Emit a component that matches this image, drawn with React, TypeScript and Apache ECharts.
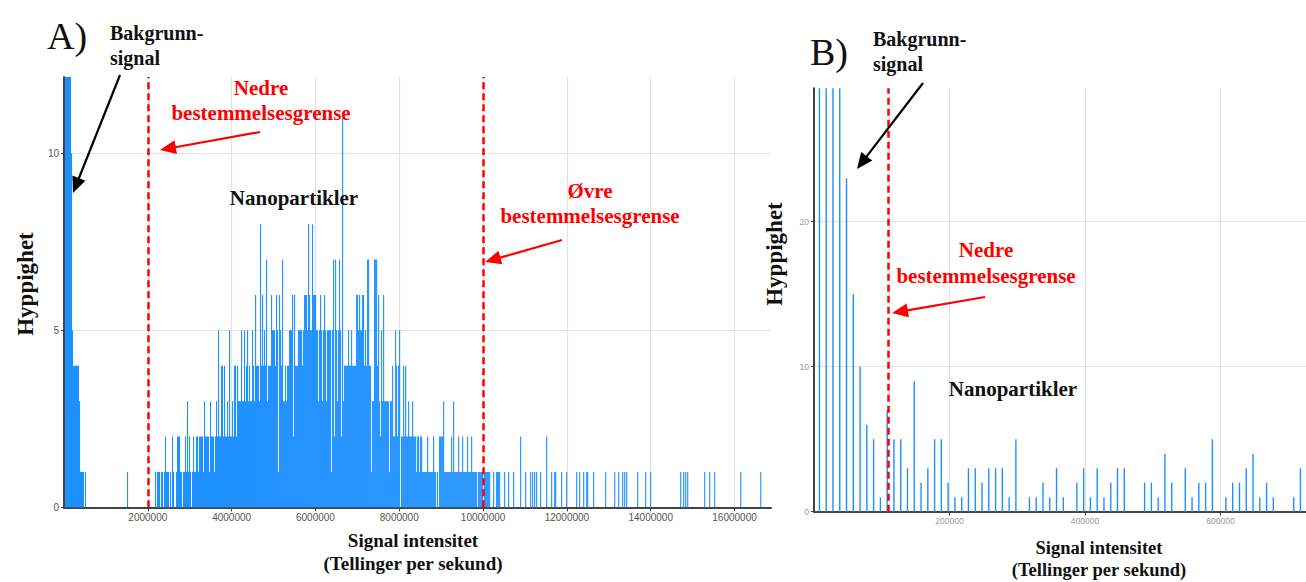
import React, { useEffect, useRef } from "react";
import * as echarts from "echarts";

// ---------- Panel A (histogram, full range) ----------
const A_BIN_WIDTH = 23870; // counts per second per bin
const A_X_MAX = 16870000;
const A_Y_MAX = 12.16;
const A_X_TICK = 2000000;
const A_LIMITS = [2000000, 10000000]; // nedre / øvre bestemmelsesgrense

// background-signal bins, starting at bin 1
const A_BG_START_BIN = 1;
const A_BG_COUNTS = [30, 26, 22, 18, 15, 13, 10, 5, 4, 4, 4, 4, 4, 4, 3, 1, 1, 1, 1, 0, 1];

// nanoparticle bins, contiguous, starting at bin 91
const A_CORE_START_BIN = 91;
const A_CORE_COUNTS = [
  1, 0, 1, 1, 1, 0, 1, 1, 0, 1,
  2, 1, 1, 1, 0, 1, 0, 2, 1, 0,
  0, 1, 2, 2, 2, 1, 1, 0, 1, 1,
  2, 1, 3, 1, 2, 1, 0, 1, 2, 1,
  1, 2, 2, 1, 2, 2, 2, 2, 1, 3,
  2, 2, 2, 2, 1, 3, 2, 2, 2, 1,
  2, 3, 2, 5, 2, 2, 4, 4, 2, 4,
  2, 2, 3, 2, 5, 2, 2, 3, 2, 4,
  4, 2, 4, 3, 3, 3, 5, 3, 3, 5,
  3, 4, 5, 3, 4, 3, 3, 5, 4, 3,
  6, 4, 4, 4, 3, 8, 4, 6, 4, 5,
  4, 7, 3, 4, 4, 4, 6, 5, 5, 5,
  4, 6, 5, 1, 6, 5, 4, 7, 3, 3,
  4, 3, 4, 4, 5, 5, 5, 6, 2, 6,
  4, 4, 4, 5, 5, 5, 5, 4, 5, 6,
  6, 6, 5, 8, 6, 5, 5, 8, 6, 6,
  6, 5, 5, 3, 5, 6, 5, 3, 5, 6,
  5, 3, 5, 5, 5, 5, 1, 5, 7, 2,
  7, 5, 3, 5, 7, 5, 2, 11, 3, 4,
  4, 4, 4, 5, 4, 4, 5, 4, 4, 4,
  4, 6, 6, 5, 6, 5, 5, 6, 6, 4,
  5, 4, 7, 7, 4, 4, 1, 3, 3, 7,
  7, 7, 4, 6, 3, 2, 5, 3, 6, 3,
  3, 3, 3, 3, 1, 3, 3, 4, 2, 2,
  5, 4, 2, 4, 5, 0, 2, 2, 4, 2,
  4, 2, 2, 3, 2, 2, 2, 3, 2, 2,
  2, 1, 2, 2, 1, 2, 2, 1, 1, 1,
  1, 1, 2, 1, 1, 1, 1, 1, 2, 1,
  1, 0, 1, 0, 2, 2, 2, 2, 3, 1,
  1, 1, 1, 1, 1, 1, 2, 1, 3, 1,
  1, 1, 1, 2, 1, 1, 1, 2, 1, 1,
  1, 1, 2, 1, 1, 1, 2, 1, 1, 1,
  1, 1, 0, 1, 1, 1, 1, 1, 0, 1,
  1, 1, 1, 1, 1, 0, 0, 0, 1, 0,
  0, 1, 1, 1, 1,
];

// isolated bins (left gap and right tail)
const A_SPARSE_BINS = [63, 440, 444, 449, 456, 461, 466, 468, 470, 472, 476, 482, 487, 490, 491, 497, 502, 512, 515, 519, 522, 523, 529, 541, 550, 554, 558, 560, 562, 573, 581, 586, 616, 619, 621, 623, 640, 645, 650, 676, 696];
const A_SPARSE_COUNTS = [1, 1, 1, 1, 2, 1, 1, 1, 1, 1, 1, 2, 1, 1, 1, 1, 1, 1, 1, 1, 1, 1, 1, 1, 1, 1, 1, 1, 1, 1, 1, 1, 1, 1, 1, 1, 1, 1, 1, 1, 1];

// ---------- Panel B (zoom on low intensities) ----------
const B_BIN_START = 8000;
const B_BIN_WIDTH = 10000;
const B_X_MAX = 760000;
const B_Y_MAX = 29.2;
const B_X_TICK = 200000;
const B_LIMIT = 109000;
const B_COUNTS = [
  52, 41, 35, 31, 23, 15, 10, 6, 5, 1,
  7, 5, 5, 3, 9, 2, 3, 5, 5, 2,
  1, 1, 3, 3, 2, 3, 3, 3, 1, 5,
  0, 1, 1, 2, 1, 3, 1, 0, 2, 3,
  1, 3, 1, 2, 3, 3, 0, 0, 2, 2,
  1, 4, 2, 0, 3, 1, 2, 2, 5, 0,
  1, 2, 2, 3, 4, 1, 2, 1, 0, 0,
  1, 3,
];

const BAR_COLOR = "#1e90ff";
const RED = "#ff0000";
const SERIF = '"Liberation Serif", "Times New Roman", serif';

function buildA(): [number, number][] {
  const pts: [number, number][] = [];
  const push = (bin: number, c: number) => {
    if (c > 0) pts.push([(bin + 0.5) * A_BIN_WIDTH, c]);
  };
  A_BG_COUNTS.forEach((c, i) => push(A_BG_START_BIN + i, c));
  A_CORE_COUNTS.forEach((c, i) => push(A_CORE_START_BIN + i, c));
  A_SPARSE_BINS.forEach((b, i) => push(b, A_SPARSE_COUNTS[i]));
  return pts;
}

function buildB(): [number, number][] {
  const pts: [number, number][] = [];
  B_COUNTS.forEach((c, i) => {
    if (c > 0) pts.push([B_BIN_START + i * B_BIN_WIDTH, c]);
  });
  return pts;
}

function arrow(x1: number, y1: number, x2: number, y2: number, color: string) {
  const dx = x2 - x1;
  const dy = y2 - y1;
  const len = Math.hypot(dx, dy);
  const ux = dx / len;
  const uy = dy / len;
  const hl = 16;
  const hw = 7;
  const bx = x2 - ux * hl;
  const by = y2 - uy * hl;
  return [
    { type: "line", z: 100, shape: { x1, y1, x2: bx + ux * 2, y2: by + uy * 2 }, style: { stroke: color, lineWidth: 2.2 } },
    {
      type: "polygon",
      z: 100,
      shape: { points: [[x2, y2], [bx - uy * hw, by + ux * hw], [bx + uy * hw, by - ux * hw]] },
      style: { fill: color },
    },
  ];
}

function txt(text: string, x: number, y: number, size: number, opts: any = {}) {
  return {
    type: "text",
    z: 100,
    x,
    y,
    rotation: opts.rotation || 0,
    style: {
      text,
      font: `${opts.bold === false ? "" : "bold "}${size}px ${SERIF}`,
      fill: opts.fill || "#111",
      align: opts.align || "left",
      verticalAlign: "middle",
      lineHeight: opts.lineHeight || size * 1.2,
    },
  };
}

function xAxisCfg(grid: number, max: number, interval: number, fontSize: number, color: string) {
  return {
    type: "value",
    gridIndex: grid,
    min: 0,
    max,
    interval,
    axisLine: { show: true, onZero: false, lineStyle: { color: "#444", width: 2 } },
    axisTick: { show: true, length: 4, lineStyle: { color: "#444", width: 1 } },
    axisLabel: {
      fontSize,
      color,
      margin: 5,
      fontFamily: "Arial, Liberation Sans, sans-serif",
      showMinLabel: false,
      showMaxLabel: false,
      formatter: (v: number) => String(v),
    },
    splitLine: { show: true, showMinLine: false, showMaxLine: false, lineStyle: { color: "#e3e3e3", width: 1.2 } },
  };
}

function yAxisCfg(grid: number, max: number, interval: number, fontSize: number, color: string) {
  return {
    type: "value",
    gridIndex: grid,
    min: 0,
    max,
    interval,
    axisLine: { show: true, lineStyle: { color: "#444", width: 2 } },
    axisTick: { show: true, length: 3, lineStyle: { color: "#444", width: 1 } },
    axisLabel: {
      fontSize,
      color,
      margin: 5,
      fontFamily: "Arial, Liberation Sans, sans-serif",
      showMaxLabel: false,
      formatter: (v: number) => String(v),
    },
    splitLine: { show: true, showMinLine: false, showMaxLine: false, lineStyle: { color: "#e3e3e3", width: 1.2 } },
  };
}

export default function App() {
  const ref = useRef<HTMLDivElement>(null);

  useEffect(() => {
    document.body.style.margin = "0";
    if (!ref.current) return;
    const chart = echarts.init(ref.current, undefined, { renderer: "svg" });

    const dashed = { color: RED, width: 2.5, type: [7, 4] as any };

    const graphics: any[] = [
      // Panel A annotations
      txt("A)", 47, 36, 38, { bold: false, fill: "#111" }),
      txt("Bakgrunn-\nsignal", 110, 45, 20, { lineHeight: 25 }),
      txt("Nedre\nbestemmelsesgrense", 261, 100, 21, { fill: RED, align: "center", lineHeight: 25 }),
      txt("Nanopartikler", 294, 198, 21, { align: "center" }),
      txt("Øvre\nbestemmelsesgrense", 590, 203, 21, { fill: RED, align: "center", lineHeight: 25 }),
      txt("Hyppighet", 25, 284, 23, { align: "center", rotation: Math.PI / 2 }),
      txt("Signal intensitet\n(Tellinger per sekund)", 413, 552, 19, { align: "center", lineHeight: 23 }),
      ...arrow(120, 75, 73, 193, "#000"),
      ...arrow(260, 132, 160, 150, RED),
      ...arrow(562, 240, 485, 262, RED),
      // Panel B annotations
      txt("B)", 810, 52, 38, { bold: false, fill: "#111" }),
      txt("Bakgrunn-\nsignal", 873, 51, 20, { lineHeight: 25 }),
      txt("Nedre\nbestemmelsesgrense", 986, 263, 21, { fill: RED, align: "center", lineHeight: 26 }),
      txt("Nanopartikler", 1013, 389, 21, { align: "center" }),
      txt("Hyppighet", 774, 254, 23, { align: "center", rotation: Math.PI / 2 }),
      txt("Signal intensitet\n(Tellinger per sekund)", 1099, 559, 18.5, { align: "center", lineHeight: 22 }),
      ...arrow(923, 83, 857, 169, "#000"),
      ...arrow(985, 297, 892, 313, RED),
    ];

    chart.setOption({
      animation: false,
      backgroundColor: "#ffffff",
      grid: [
        { left: 64, top: 77, width: 707, height: 430.3, containLabel: false, outerBoundsMode: "none" },
        { left: 814, top: 88.3, width: 514.9, height: 423.4, containLabel: false, outerBoundsMode: "none" },
      ],
      xAxis: [
        xAxisCfg(0, A_X_MAX, A_X_TICK, 10, "#555"),
        xAxisCfg(1, B_X_MAX, B_X_TICK, 8.5, "#999"),
      ],
      yAxis: [
        yAxisCfg(0, A_Y_MAX, 5, 10, "#555"),
        yAxisCfg(1, B_Y_MAX, 10, 8.5, "#999"),
      ],
      series: [
        {
          type: "bar",
          xAxisIndex: 0,
          yAxisIndex: 0,
          data: buildA(),
          barWidth: 1.1,
          itemStyle: { color: BAR_COLOR },
          clip: true,
          markLine: {
            silent: true,
            symbol: "none",
            label: { show: false },
            lineStyle: dashed,
            data: A_LIMITS.map((v) => ({ xAxis: v })),
          },
        },
        {
          type: "bar",
          xAxisIndex: 1,
          yAxisIndex: 1,
          data: buildB(),
          barWidth: 1.4,
          itemStyle: { color: BAR_COLOR },
          clip: true,
          markLine: {
            silent: true,
            symbol: "none",
            label: { show: false },
            lineStyle: dashed,
            data: [{ xAxis: B_LIMIT }],
          },
        },
      ],
      graphic: graphics,
    });

    return () => chart.dispose();
  }, []);

  return (
    <div style={{ position: "absolute", left: 0, top: 0, width: 1306, height: 582, overflow: "hidden", background: "#fff" }}>
      <div ref={ref} style={{ position: "absolute", left: 0, top: 0, width: 1340, height: 582 }} />
    </div>
  );
}
